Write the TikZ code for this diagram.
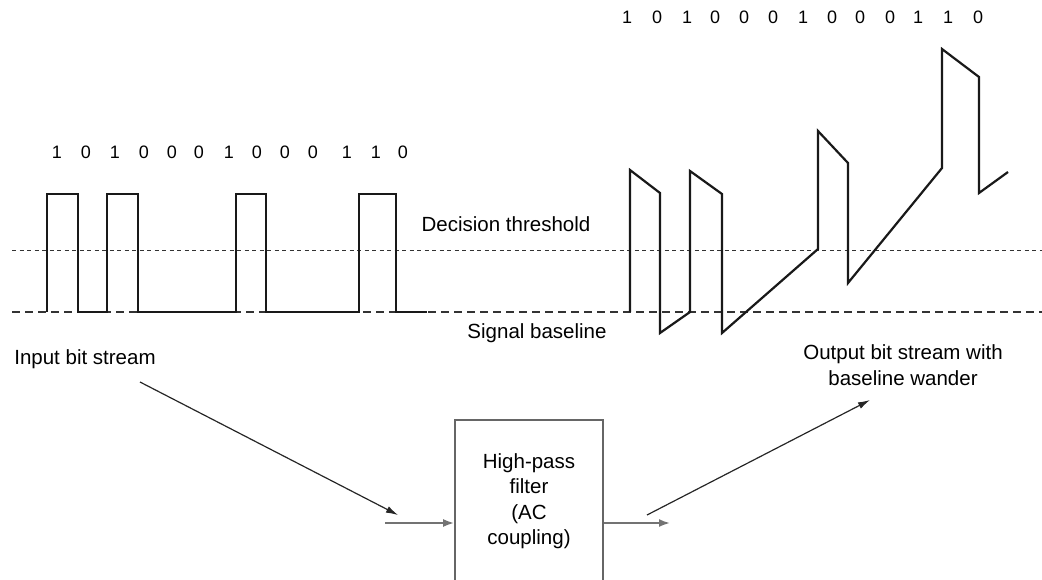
\documentclass[tikz,border=0pt]{standalone}
\usepackage{fontspec}
\setmainfont{Liberation Sans}
\usetikzlibrary{arrows.meta,positioning}

\begin{document}
\begin{tikzpicture}[x=1pt, y=-1pt, font=\fontsize{20.5}{26}\selectfont,
    wave/.style={black!90, line width=2.2pt, line join=miter},
    thresh/.style={black!80, line width=1pt, dash pattern=on 4pt off 3.5pt},
    base/.style={black!80, line width=1.1pt, dash pattern=on 8pt off 5pt},
    feed/.style={black!55, line width=1.8pt, -{Latex[length=11pt,width=8pt]}},
    pointer/.style={black!85, line width=1.2pt, -{Latex[length=12pt,width=7pt]}},
    filterbox/.style={draw=black!60, line width=1.8pt, minimum width=148pt, minimum height=190pt},
    bit/.style={font=\fontsize{18}{20}\selectfont}]
  \clip (0,0) rectangle (1042,579);

  % Threshold and baseline
  \draw[thresh] (12,250) -- (1042,250);
  \draw[base] (12,312) -- (1042,312);
  \node (thr) at (506,224) {Decision threshold};
  \node (sbl) at (537,333) {Signal baseline};

  % Input bit stream
  \foreach \x/\b [count=\i] in {57/1, 86/0, 115/1, 144/0, 172/0, 199/0, 229/1, 257/0, 285/0, 313/0, 347/1, 376/1, 403/0}
    \node[bit] (inbit\i) at (\x,152) {\b};
  \draw[wave] (47,312) -- (47,194) -- (78,194) -- (78,312) -- (107,312) -- (107,194) -- (138,194) -- (138,312) -- (236,312) -- (236,194) -- (266,194) -- (266,312) -- (359,312) -- (359,194) -- (396,194) -- (396,312) -- (427,312);

  % Output bit stream
  \foreach \x/\b [count=\i] in {627/1, 657/0, 687/1, 715/0, 744/0, 773/0, 803/1, 832/0, 860/0, 890/0, 918/1, 948/1, 978/0}
    \node[bit] (outbit\i) at (\x,17) {\b};
  \draw[wave] (630,312) -- (630,170) -- (660,193) -- (660,333) -- (690,312) -- (690,171) -- (722,194) -- (722,333) -- (818,249) -- (818,131) -- (848,163) -- (848,283) -- (942,168) -- (942,49) -- (979,77) -- (979,193) -- (1008,172);

  % Filter
  \node[filterbox] (hpf) at (529,515) {};
  \node[align=center, font=\fontsize{20.5}{25.5}\selectfont, below=31pt of hpf.north] (hpftext) {High-pass\\filter\\(AC\\coupling)};

  % Labels and arrows
  \node (inlbl) at (85,359) {Input bit stream};
  \node[align=center] (outlbl) at (903,365) {Output bit stream with\\baseline wander};
  \coordinate (inA) at (140,382);
  \coordinate (inB) at (398,515);
  \coordinate (feedL) at (385,523);
  \coordinate (feedR) at (670,523);
  \coordinate (outA) at (647,515);
  \coordinate (outB) at (870,400);
  \draw[pointer] (inA) -- (inB);
  \draw[feed] (feedL) -- (feedL -| hpf.west);
  \draw[feed] (hpf.east |- feedR) -- (feedR);
  \draw[pointer] (outA) -- (outB);
\end{tikzpicture}
\end{document}
